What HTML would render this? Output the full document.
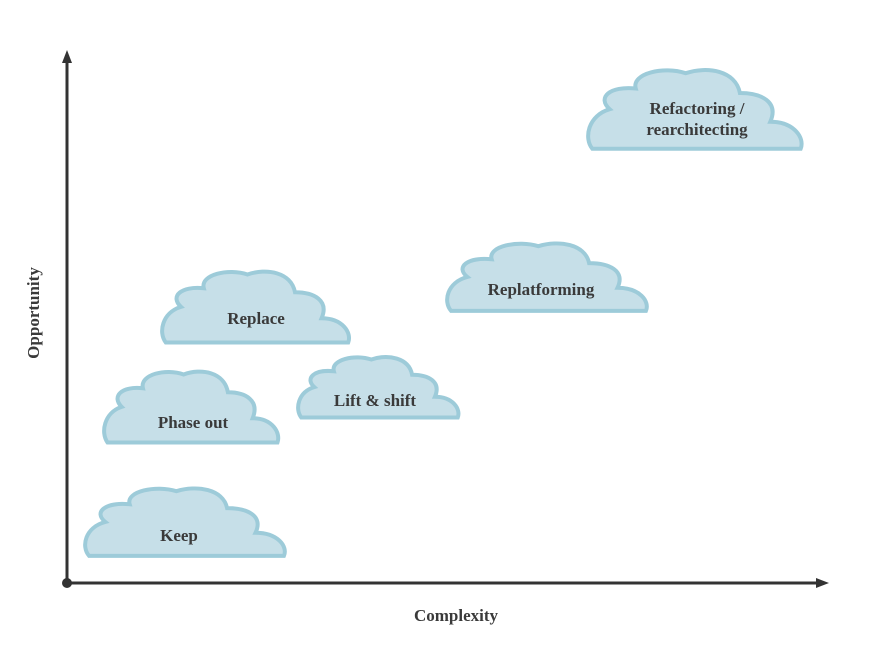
<!DOCTYPE html>
<html><head><style>
body{margin:0;background:#fff;}
svg{display:block}
text{font-family:"Liberation Serif",serif;font-weight:bold;fill:#3a3a3a;font-size:17px;text-anchor:middle}
</style></head><body>
<svg width="880" height="647" viewBox="0 0 880 647">
<defs>
<path id="c" d="M0.02,0.92 L0.98,0.92 C1.0,0.8 0.95,0.62 0.84,0.62 C0.88,0.4 0.8,0.3 0.7,0.3 C0.68,0.05 0.55,0.0 0.45,0.08 C0.35,0.0 0.2,0.08 0.22,0.25 C0.1,0.22 0.04,0.35 0.1,0.48 C0.0,0.55 -0.02,0.8 0.02,0.92 Z" fill="#c6dfe8" stroke="#9dcbd9" stroke-width="4" vector-effect="non-scaling-stroke"/>
</defs>
<use href="#c" transform="translate(588,66) scale(217,90)"/>
<use href="#c" transform="translate(447,240) scale(203,77)"/>
<use href="#c" transform="translate(162,268) scale(190,81)"/>
<use href="#c" transform="translate(298,354) scale(163,69)"/>
<use href="#c" transform="translate(104,368) scale(177,81)"/>
<use href="#c" transform="translate(85,485) scale(203,77)"/>
<text x="697" y="114">Refactoring /</text>
<text x="697" y="135">rearchitecting</text>
<text x="541" y="295">Replatforming</text>
<text x="256" y="324">Replace</text>
<text x="375" y="406">Lift &amp; shift</text>
<text x="193" y="428">Phase out</text>
<text x="179" y="541">Keep</text>
<line x1="67" y1="583" x2="67" y2="58" stroke="#333" stroke-width="3"/>
<polygon points="67,50 62,63 72,63" fill="#333"/>
<line x1="67" y1="583" x2="820" y2="583" stroke="#333" stroke-width="3"/>
<polygon points="829,583 816,578 816,588" fill="#333"/>
<circle cx="67" cy="583" r="5" fill="#333"/>
<text x="456" y="621">Complexity</text>
<text x="0" y="0" transform="translate(39,313) rotate(-90)">Opportunity</text>
</svg>
</body></html>
